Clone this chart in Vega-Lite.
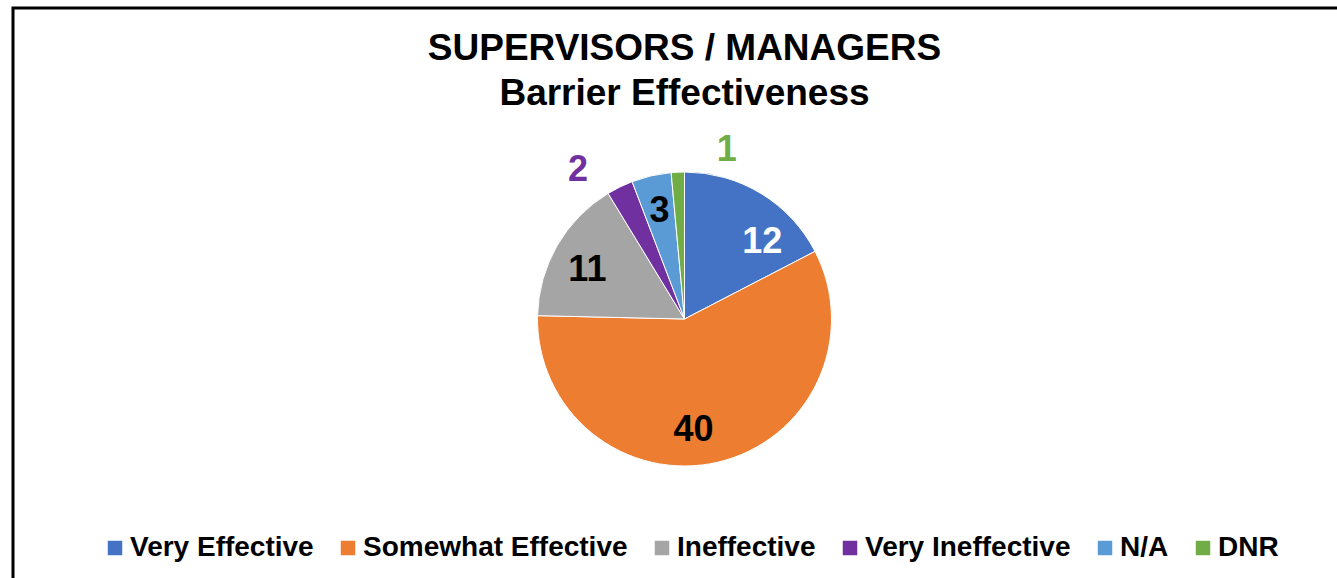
{
  "$schema": "https://vega.github.io/schema/vega-lite/v6.json",
  "autosize": {"type": "none"},
  "padding": {"left": 13, "top": 8, "right": -19, "bottom": -52},
  "width": 1343,
  "height": 622,
  "background": "white",
  "config": {
    "view": {"stroke": null},
    "font": "Liberation Sans"
  },
  "title": {
    "text": ["SUPERVISORS / MANAGERS", "Barrier Effectiveness"],
    "fontSize": 37,
    "fontWeight": "bold",
    "lineHeight": 45,
    "baseline": "top",
    "offset": -106,
    "anchor": "middle",
    "color": "black",
    "font": "Liberation Sans"
  },
  "data": {
    "values": [
      {"category": "Very Effective", "count": 12, "order": 1},
      {"category": "Somewhat Effective", "count": 40, "order": 2},
      {"category": "Ineffective", "count": 11, "order": 3},
      {"category": "Very Ineffective", "count": 2, "order": 4},
      {"category": "N/A", "count": 3, "order": 5},
      {"category": "DNR", "count": 1, "order": 6}
    ]
  },
  "layer": [
    {
      "data": {"values": [{"frame": 1}]},
      "mark": {"type": "rect", "fill": null, "filled": false, "stroke": "black", "strokeWidth": 3}
    },
    {
      "encoding": {
        "theta": {"field": "count", "type": "quantitative", "stack": true},
        "order": {"field": "order", "type": "quantitative"}
      },
      "layer": [
        {
          "mark": {"type": "arc", "outerRadius": 147, "stroke": "white", "strokeWidth": 1},
          "encoding": {
            "color": {
              "field": "category",
              "type": "nominal",
              "scale": {
                "domain": ["Very Effective", "Somewhat Effective", "Ineffective", "Very Ineffective", "N/A", "DNR"],
                "range": ["#4472C4", "#ED7D31", "#A5A5A5", "#7030A0", "#5B9BD5", "#70AD47"]
              },
              "legend": {
                "title": null,
                "orient": "none",
                "legendX": 88,
                "legendY": 526,
                "direction": "horizontal",
                "columns": 6,
                "symbolType": "square",
                "symbolSize": 210,
                "symbolStrokeWidth": 0,
                "labelFont": "Liberation Sans",
                "labelFontSize": 28,
                "labelFontWeight": "bold",
                "labelColor": "black",
                "labelLimit": 500,
                "labelOffset": 1,
                "columnPadding": 20,
                "padding": 0
              }
            }
          }
        },
        {
          "mark": {"type": "text", "radius": 111, "dx": 20, "dy": 18, "fontSize": 36, "fontWeight": "bold", "color": "white", "font": "Liberation Sans"},
          "encoding": {"text": {"condition": {"test": "datum.category === 'Very Effective'", "field": "count", "type": "quantitative"}, "value": ""}}
        },
        {
          "mark": {"type": "text", "radius": 111, "dx": -16, "dy": 3, "fontSize": 36, "fontWeight": "bold", "color": "black", "font": "Liberation Sans"},
          "encoding": {"text": {"condition": {"test": "datum.category === 'Somewhat Effective'", "field": "count", "type": "quantitative"}, "value": ""}}
        },
        {
          "mark": {"type": "text", "radius": 111, "dx": -1, "dy": 6, "fontSize": 36, "fontWeight": "bold", "color": "black", "font": "Liberation Sans"},
          "encoding": {"text": {"condition": {"test": "datum.category === 'Ineffective'", "field": "count", "type": "quantitative"}, "value": ""}}
        },
        {
          "mark": {"type": "text", "radius": 111, "fontSize": 36, "fontWeight": "bold", "color": "black", "font": "Liberation Sans"},
          "encoding": {"text": {"condition": {"test": "datum.category === 'N/A'", "field": "count", "type": "quantitative"}, "value": ""}}
        },
        {
          "mark": {"type": "text", "radius": 183, "dx": -26, "dy": 15, "fontSize": 36, "fontWeight": "bold", "color": "#7030A0", "font": "Liberation Sans"},
          "encoding": {"text": {"condition": {"test": "datum.category === 'Very Ineffective'", "field": "count", "type": "quantitative"}, "value": ""}}
        },
        {
          "mark": {"type": "text", "radius": 170, "dx": 50, "dy": 1, "fontSize": 36, "fontWeight": "bold", "color": "#70AD47", "font": "Liberation Sans"},
          "encoding": {"text": {"condition": {"test": "datum.category === 'DNR'", "field": "count", "type": "quantitative"}, "value": ""}}
        }
      ]
    }
  ]
}
